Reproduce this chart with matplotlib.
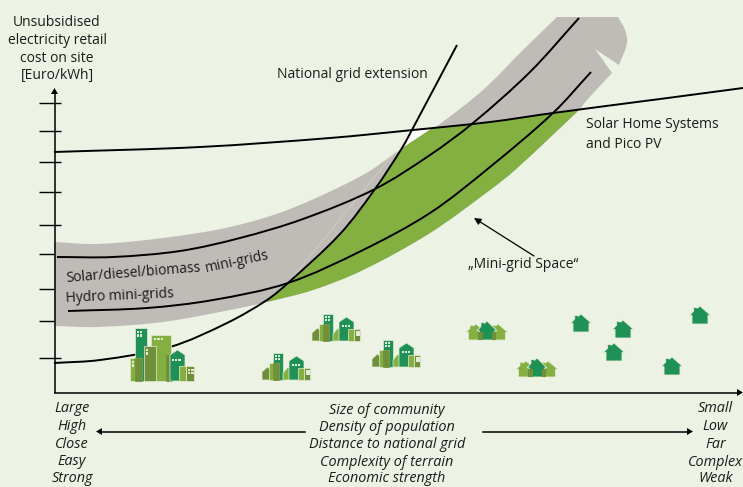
import numpy as np
import matplotlib
matplotlib.use('Agg')
import matplotlib.pyplot as plt
from matplotlib.path import Path
from matplotlib.patches import PathPatch, Polygon, Rectangle

# all values, in picture pixels
grid_x = [54, 100, 170, 227, 267, 288, 340, 375, 402, 413, 457]
grid_y = [363, 360, 347, 323, 300, 283, 234, 189, 148, 128, 45]
solar_x = [57, 113, 180, 240, 303, 375, 430, 473, 530, 579]
solar_y = [257, 257, 251, 238, 219, 189, 155, 123, 72, 18]
hydro_x = [68, 147, 213, 288, 363, 430, 490, 553, 591]
hydro_y = [311, 308, 300, 283, 250, 213, 167, 113, 72]
shs_x = [54, 200, 330, 413, 490, 553, 660, 743]
shs_y = [152, 147, 138, 130, 122, 113, 99, 88]

band_top_x = [54, 97, 163, 230, 290, 363, 397, 437, 483, 523, 557]
band_top_y = [242, 244, 238, 227, 209, 175, 152, 126, 90, 50, 17]
lobe_x = [618, 625, 627, 619]
lobe_y = [17, 30, 43, 65]
band_low_x = [612, 587, 578, 515, 490, 430, 363, 313, 267, 230, 163, 97, 54]
band_low_y = [73, 100, 111, 170, 190, 233, 270, 290, 302, 310, 322, 327, 326]

tick_y = [103, 131, 162, 192, 225, 254, 289, 321, 358]

house_x = [581, 623, 614, 700, 672]
house_y = [332, 338, 361, 324, 375]
triple_x = [487, 537]
triple_y = [340, 377]
village_x = [311, 261, 371]
village_y = [341, 380, 367]

ylabel = ['Unsubsidised', 'electricity retail', 'cost on site', '[Euro/kWh]']
left_labels = ['Large', 'High', 'Close', 'Easy', 'Strong']
mid_labels = ['Size of community', 'Density of population', 'Distance to national grid',
              'Complexity of terrain', 'Economic strength']
right_labels = ['Small', 'Low', 'Far', 'Complex', 'Weak']

BG = '#ecf2e4'
GREY = '#bfbbb7'
LIME = '#84b041'
DARK = '#1f9157'
OLIVE = '#6f8f3a'
PALE = '#e4edd3'
TXT = '#1c1c1c'

plt.rcParams['font.family'] = ['Open Sans', 'DejaVu Sans']

fig = plt.figure(figsize=(7.43, 4.87), dpi=100, facecolor=BG)
ax = fig.add_axes([0, 0, 1, 1])
ax.set_xlim(0, 743)
ax.set_ylim(487, 0)
ax.axis('off')


def bezier(xs, ys):
    # smooth run through the read points, handles scaled by segment length
    p = np.column_stack([xs, ys]).astype(float)
    n = len(p)
    tang = []
    for i in range(n):
        d = p[min(i + 1, n - 1)] - p[max(i - 1, 0)]
        norm = np.hypot(*d)
        tang.append(d / norm if norm else d)
    verts = []
    for i in range(n - 1):
        seg = np.hypot(*(p[i + 1] - p[i])) / 3
        verts += [p[i] + tang[i] * seg, p[i + 1] - tang[i + 1] * seg, p[i + 1]]
    return p[0], verts


def shape(runs):
    # closed outline from several smooth runs, joined by straight lines
    v, c = [], []
    for xs, ys in runs:
        start, verts = bezier(xs, ys)
        v.append(start)
        c.append(Path.LINETO if c else Path.MOVETO)
        v += verts
        c += [Path.CURVE4] * len(verts)
    v.append(v[0])
    c.append(Path.CLOSEPOLY)
    return Path(v, c)


def curve(xs, ys):
    start, verts = bezier(xs, ys)
    path = Path([start] + verts, [Path.MOVETO] + [Path.CURVE4] * len(verts))
    ax.add_patch(PathPatch(path, fc='none', ec='black', lw=1.4, zorder=5, capstyle='butt'))


def building(x0, x1, top, ground, color, edge=PALE):
    ax.add_patch(Rectangle((x0, top), x1 - x0, ground - top, fc=color, ec=edge, lw=0.5, zorder=7))


def windows(x0, top, n, m=1, step=3.4):
    for i in range(n):
        for j in range(m):
            ax.add_patch(Rectangle((x0 + i * step, top + j * step), 2.2, 2.2, fc=PALE, ec='none', zorder=9))


def house(cx, base, color, w=19, h=16, z=7):
    pts = [(cx - w * 0.38, base), (cx - w * 0.38, base - h * 0.48), (cx - w * 0.5, base - h * 0.48),
           (cx - w * 0.3, base - h * 0.72), (cx - w * 0.3, base - h * 0.92), (cx - w * 0.16, base - h * 0.92),
           (cx - w * 0.13, base - h * 0.87), (cx, base - h), (cx + w * 0.5, base - h * 0.48),
           (cx + w * 0.38, base - h * 0.48), (cx + w * 0.38, base)]
    ax.add_patch(Polygon(pts, fc=color, ec=PALE, lw=0.6, zorder=z))


def roof_house(x0, x1, shoulder, apex, ground, color):
    mid = (x0 + x1) / 2
    pts = [(x0, ground), (x0, shoulder), (mid, apex), (x1, shoulder), (x1, ground)]
    ax.add_patch(Polygon(pts, fc=color, ec=PALE, lw=0.5, zorder=7))


# ticks sit under the grey band
for t in tick_y:
    ax.plot([39, 61], [t, t], color='black', lw=1.0, zorder=1, solid_capstyle='butt')

# mini-grid band
band = shape([(band_top_x, band_top_y), (lobe_x, lobe_y), ([595], [49]), (band_low_x, band_low_y)])
ax.add_patch(PathPatch(band, fc=GREY, ec='none', zorder=2))

# green "mini-grid space": between grid curve, SHS line and lower band edge
g_i = grid_x.index(267)
g_j = grid_x.index(402)
s_i = shs_x.index(490)
s_j = shs_x.index(553)
l_i = band_low_x.index(578)
l_j = band_low_x.index(267)
green = shape([(grid_x[g_i:g_j + 1], grid_y[g_i:g_j + 1]),
               ([432] + shs_x[s_i:s_j + 1] + [578], [128] + shs_y[s_i:s_j + 1] + [110]),
               (band_low_x[l_i:l_j + 1], band_low_y[l_i:l_j + 1])])
ax.add_patch(PathPatch(green, fc=LIME, ec='none', zorder=3))
ax.add_patch(Polygon([(402, 148), (412, 130), (432, 128)], fc='white', ec='none', zorder=3))
ax.plot([288, 395], [283, 152], color='#d4d1cd', lw=0.5, zorder=4)

curve(grid_x, grid_y)
curve(solar_x, solar_y)
curve(hydro_x, hydro_y)
curve(shs_x, shs_y)

# big city
g = 381
building(135, 147, 328, g, DARK)
building(130, 142, 358, g, LIME)
building(135, 142, 358, g, OLIVE, OLIVE)
building(151, 171, 335, g, LIME)
building(144, 156, 346, g, OLIVE)
building(166, 172, 355, g, OLIVE, OLIVE)
roof_house(170, 185, 355, 350, g, DARK)
building(186, 194, 366, g, OLIVE)
building(179, 186, 366, g, LIME)
windows(136.5, 331, 2, 2)
windows(154, 338, 3)
windows(146, 349, 1, 2)
windows(131.5, 361, 1, 2)
windows(171.5, 358.5, 3)
windows(188, 368.5, 2, 2)

# villages
for ox, oy in zip(village_x, village_y):
    roof_house(ox + 1, ox + 12, oy - 8, oy - 13, oy, OLIVE)
    building(ox + 12, ox + 22, oy - 27, oy, DARK)
    building(ox + 8, ox + 18, oy - 17, oy, LIME)
    building(ox + 12, ox + 18, oy - 17, oy, OLIVE, OLIVE)
    roof_house(ox + 22, ox + 32, oy - 7, oy - 13, oy, LIME)
    roof_house(ox + 28, ox + 43, oy - 19, oy - 24, oy, DARK)
    building(ox + 43, ox + 49, oy - 12, oy, OLIVE)
    building(ox + 37, ox + 43, oy - 12, oy, LIME)
    windows(ox + 13.5, oy - 25, 2, 2, 3)
    windows(ox + 30.5, oy - 16, 3, 1, 3)
    windows(ox + 44.5, oy - 10, 2, 2, 2.4)

# three-house groups
for cx, base in zip(triple_x, triple_y):
    house(cx - 11, base, LIME, w=20, h=16)
    house(cx + 11, base, LIME, w=20, h=16)
    house(cx, base, DARK, w=20, h=19, z=8)
    ax.add_patch(Rectangle((cx - 9, base - 8), 4.5, 8, fc=OLIVE, ec='none', zorder=9))
    ax.add_patch(Rectangle((cx + 4.5, base - 8), 4.5, 8, fc=OLIVE, ec='none', zorder=9))

for cx, base in zip(house_x, house_y):
    house(cx, base, DARK, w=21, h=18)

# axes
ax.plot([54.5, 54.5], [393, 92], color='black', lw=1.1, zorder=10, solid_capstyle='butt')
ax.plot([54, 738], [392.5, 392.5], color='black', lw=1.1, zorder=10, solid_capstyle='butt')
ax.add_patch(Polygon([(54.5, 88), (51, 94), (58, 94)], fc='black', ec='none', zorder=10))
ax.add_patch(Polygon([(743, 392.5), (737, 389), (737, 396)], fc='black', ec='none', zorder=10))

# arrows under the axis
ax.plot([101, 305], [431.5, 431.5], color='black', lw=1.1, zorder=10)
ax.add_patch(Polygon([(96, 431.5), (102, 428), (102, 435)], fc='black', ec='none', zorder=10))
ax.plot([483, 688], [431.5, 431.5], color='black', lw=1.1, zorder=10)
ax.add_patch(Polygon([(693, 431.5), (687, 428), (687, 435)], fc='black', ec='none', zorder=10))
ax.annotate('', xy=(474, 218), xytext=(534, 256),
            arrowprops=dict(arrowstyle='-|>', color='black', lw=0.9, shrinkA=0, shrinkB=0, mutation_scale=10),
            zorder=10)

# texts
fs = 10
fi = 10.4
for lab, y in zip(ylabel, [22, 40, 58, 75]):
    ax.text(57, y, lab, ha='center', va='center', fontsize=fs, color=TXT, zorder=11)
ax.text(277, 74, 'National grid extension', ha='left', va='center', fontsize=fs, color=TXT, zorder=11)
ax.text(586, 125, 'Solar Home Systems', ha='left', va='center', fontsize=fs, color=TXT, zorder=11)
ax.text(586, 144, 'and Pico PV', ha='left', va='center', fontsize=fs, color=TXT, zorder=11)
ax.text(523, 265, '„Mini-grid Space“', ha='center', va='center', fontsize=fs, color=TXT, zorder=11)
ax.text(66, 282, 'Solar/diesel/biomass', ha='left', va='baseline', rotation=4.5, rotation_mode='anchor',
        fontsize=fs, color=TXT, zorder=11)
ax.text(206, 272, 'mini-grids', ha='left', va='baseline', rotation=12, rotation_mode='anchor',
        fontsize=fs, color=TXT, zorder=11)
ax.text(66, 302, 'Hydro mini-grids', ha='left', va='baseline', rotation=2.5, rotation_mode='anchor',
        fontsize=fs, color=TXT, zorder=11)

for lab, y in zip(left_labels, [408, 426, 444, 461.5, 478.5]):
    ax.text(72, y, lab, ha='center', va='center', style='italic', fontsize=fi, color=TXT, zorder=11)
for lab, y in zip(mid_labels, [410, 427.5, 445, 462, 478.5]):
    ax.text(387, y, lab, ha='center', va='center', style='italic', fontsize=fi, color=TXT, zorder=11)
for lab, y in zip(right_labels, [409, 427, 444.5, 462, 478.5]):
    ax.text(715.5, y, lab, ha='center', va='center', style='italic', fontsize=fi, color=TXT, zorder=11)

fig.savefig('out.png', dpi=100, facecolor=BG)
